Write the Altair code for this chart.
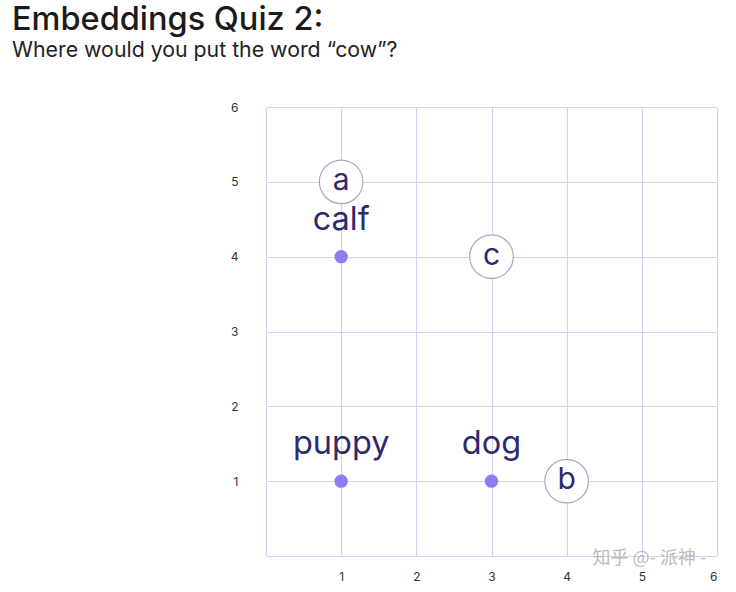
import altair as alt
import pandas as pd

# Word points
words = ["calf", "puppy", "dog"]
word_x = [1, 1, 3]
word_y = [4, 1, 1]

# Answer options
options = ["a", "b", "c"]
option_x = [1, 4, 3]
option_y = [5, 1, 4]

tick_values = [0, 1, 2, 3, 4, 5, 6]

watermark_text = ["知乎 @- 派神 -"]
watermark_x = [5.1]
watermark_y = [-0.04]

words_df = pd.DataFrame({"word": words, "x": word_x, "y": word_y})
opts_df = pd.DataFrame({"opt": options, "x": option_x, "y": option_y})
wm_df = pd.DataFrame({"t": watermark_text, "x": watermark_x, "y": watermark_y})

GRID = "#d6d3ef"
NAVY = "#2e2a6b"
DOT = "#8a7ff0"

xs = alt.Scale(domain=[0, 6], nice=False, zero=False)
ys = alt.Scale(domain=[0, 6], nice=False, zero=False)

x_axis = alt.Axis(values=tick_values, title=None, grid=True, gridColor=GRID, gridWidth=1.2,
                  domain=False, ticks=False, labelPadding=15, labelFontSize=12,
                  labelColor="#333333", labelFont="Inter", format="d",
                  labelExpr="datum.value == 0 ? '' : datum.label")
y_axis = alt.Axis(values=tick_values, title=None, grid=True, gridColor=GRID, gridWidth=1.2,
                  domain=False, ticks=False, labelPadding=28, labelFontSize=12,
                  labelColor="#333333", labelFont="Inter", format="d",
                  labelExpr="datum.value == 0 ? '' : datum.label")

base_w = alt.Chart(words_df)

dots = base_w.mark_circle(size=180, color=DOT, opacity=1).encode(
    x=alt.X("x:Q", scale=xs, axis=x_axis),
    y=alt.Y("y:Q", scale=ys, axis=y_axis),
)

word_labels = base_w.mark_text(fontSize=32.5, font="Inter", color=NAVY, baseline="alphabetic",
                               dy=-27).encode(
    x=alt.X("x:Q", scale=xs), y=alt.Y("y:Q", scale=ys), text="word:N"
)

base_o = alt.Chart(opts_df)
circles = base_o.mark_point(shape="circle", size=1900, filled=True, fill="white",
                            stroke="#a9a6c9", strokeWidth=1.2, opacity=1).encode(
    x=alt.X("x:Q", scale=xs), y=alt.Y("y:Q", scale=ys)
)
letters = base_o.mark_text(fontSize=30, font="Inter", color=NAVY, baseline="middle",
                           dy=-1).encode(
    x=alt.X("x:Q", scale=xs), y=alt.Y("y:Q", scale=ys), text="opt:N"
)

wm = alt.Chart(wm_df).mark_text(fontSize=18, font="Noto Sans CJK SC", color="#b5b5b5",
                                baseline="middle", opacity=0.9).encode(
    x=alt.X("x:Q", scale=xs), y=alt.Y("y:Q", scale=ys), text="t:N"
)

chart = alt.layer(dots, word_labels, circles, letters, wm).properties(
    width=451,
    height=449,
    autosize=alt.AutoSizeParams(type="none"),
    padding={"left": 266, "top": 107, "right": 19, "bottom": 36},
    title=alt.TitleParams(
        text="Embeddings Quiz 2:",
        subtitle="Where would you put the word \u201ccow\u201d?",
        anchor="start", frame="group", dx=-254, offset=40,
        font="Inter", fontSize=32.5, fontWeight=500, color="#1b1b1b",
        subtitleFont="Inter", subtitleFontSize=21.3, subtitleColor="#222222",
        subtitlePadding=3,
    ),
).configure_view(stroke=None).configure(background="white")

chart.save("out.html", embed_options={"renderer": "svg", "actions": False})
